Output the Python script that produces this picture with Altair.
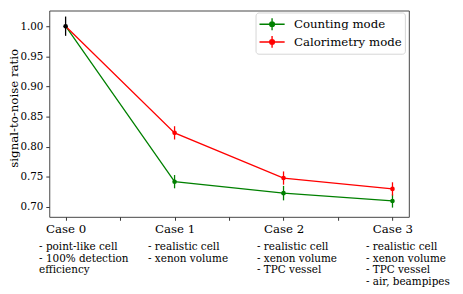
import altair as alt
import pandas as pd

cases = [0, 1, 2, 3]
case_labels = ["Case 0", "Case 1", "Case 2", "Case 3"]
series_names = ["Counting mode", "Calorimetry mode"]
series_colors = ["#008000", "#ff0000"]
counting = [1.000, 0.742, 0.723, 0.710]
counting_err = [0.016, 0.011, 0.012, 0.011]
calorimetry = [1.000, 0.823, 0.748, 0.730]
calorimetry_err = [0.016, 0.011, 0.011, 0.011]
notes = [
    ["- point-like cell", "- 100% detection", "  efficiency"],
    ["- realistic cell", "- xenon volume"],
    ["- realistic cell", "- xenon volume", "- TPC vessel"],
    ["- realistic cell", "- xenon volume", "- TPC vessel", "- air, beampipes"],
]

rows = []
for name, vals, errs in [(series_names[0], counting, counting_err),
                         (series_names[1], calorimetry, calorimetry_err)]:
    for c, v, e in zip(cases, vals, errs):
        rows.append({"series": name, "case": c, "value": v, "lo": v - e, "hi": v + e,
                     "order": series_names.index(name)})
df = pd.DataFrame(rows)
notes_df = pd.DataFrame({"case": cases, "text": ["\n".join(n) for n in notes]})

FONT = "DejaVu Serif"
x_scale = alt.Scale(domain=[-0.15, 3.15], nice=False, zero=False)
y_scale = alt.Scale(domain=[0.6837, 1.026], nice=False, zero=False)
color_scale = alt.Scale(domain=series_names, range=series_colors)

label_expr = "datum.value % 1 === 0 ? " + str(case_labels) + "[datum.value] : ''"
x_axis = alt.Axis(values=[0, 0.5, 1, 1.5, 2, 2.5, 3], labelExpr=label_expr, title=None,
                  labelFlush=False, labelOverlap=False, labelFontSize=12)
y_axis = alt.Axis(values=[0.70, 0.75, 0.80, 0.85, 0.90, 0.95, 1.00], format=".2f",
                  title="signal-to-noise ratio", labelOverlap=False, labelFontSize=10.5,
                  titleX=-32, titleY=99, titleBaseline="alphabetic")

sym = ("M-1,0L2.2,0M0.6,-0.75L0.6,0.75"
       "M0.3,0A0.3,0.3 0 1,0 0.9,0A0.3,0.3 0 1,0 0.3,0Z")
legend = alt.Legend(title=None, orient="none", legendX=210, legendY=2,
                    symbolType=sym, symbolSize=256, symbolStrokeWidth=1.4,
                    labelFont=FONT, labelFontSize=12, labelColor="black",
                    strokeColor="#d5d5d5", cornerRadius=3, padding=3,
                    fillColor="white", rowPadding=-3, labelOffset=18, symbolOffset=0)

stroke_enc = alt.Stroke("series:N", scale=color_scale, legend=legend)
fill_enc = alt.Fill("series:N", scale=color_scale, legend=legend)

base = alt.Chart(df)

lines = base.mark_line(strokeWidth=1.3).encode(
    x=alt.X("case:Q", scale=x_scale, axis=x_axis),
    y=alt.Y("value:Q", scale=y_scale, axis=y_axis), stroke=stroke_enc,
    detail="series:N", order="case:Q")

sub = base.transform_filter("datum.case > 0")
bars = sub.mark_rule(strokeWidth=1.3).encode(
    x=alt.X("case:Q", scale=x_scale, axis=x_axis),
    y=alt.Y("lo:Q", scale=y_scale, axis=y_axis), y2="hi:Q",
    stroke=stroke_enc)
pts = sub.mark_point(filled=True, size=22, opacity=1, shape="circle", strokeWidth=0).encode(
    x=alt.X("case:Q", scale=x_scale, axis=x_axis),
    y=alt.Y("value:Q", scale=y_scale, axis=y_axis),
    fill=fill_enc)

zero = base.transform_filter("datum.case === 0 && datum.order === 0")
zbar = zero.mark_rule(strokeWidth=1.3, color="black").encode(
    x=alt.X("case:Q", scale=x_scale, axis=x_axis),
    y=alt.Y("lo:Q", scale=y_scale, axis=y_axis), y2="hi:Q")
zpt = zero.mark_point(filled=True, size=22, opacity=1, color="black", shape="circle").encode(
    x=alt.X("case:Q", scale=x_scale, axis=x_axis),
    y=alt.Y("value:Q", scale=y_scale, axis=y_axis))

txt = alt.Chart(notes_df).mark_text(align="left", baseline="alphabetic", dx=-27,
                                    font=FONT, fontSize=10.6, lineBreak="\n",
                                    lineHeight=11.7, color="black").encode(
    x=alt.X("case:Q", scale=x_scale, axis=x_axis), y=alt.value(244), text="text:N")

chart = alt.layer(lines, bars, pts, zbar, zpt, txt).properties(
    width=366, height=210,
    autosize=alt.AutoSizeParams(type="none"),
    padding={"left": 42, "top": 0, "right": 47, "bottom": 76},
).configure(font=FONT).configure_view(stroke="#444", strokeWidth=1).configure_axis(
    grid=False, tickSize=3.5, labelPadding=3, labelFont=FONT,
    labelColor="black", domain=False, tickColor="#333", titleFont=FONT,
    titleFontSize=12, titleFontWeight="normal", titleColor="black"
).configure_legend(labelFont=FONT)

chart.save("out.html", embed_options={"renderer": "svg", "actions": False})
